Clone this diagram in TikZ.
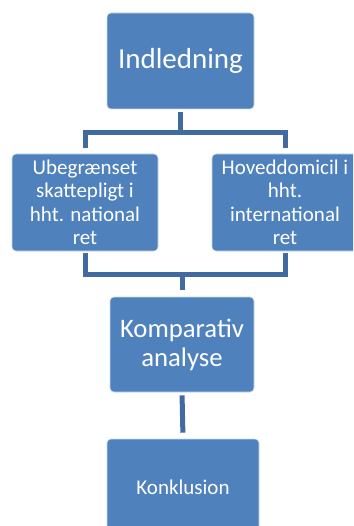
\documentclass[tikz,border=0pt]{standalone}
\usepackage{fontspec}
\setmainfont{Carlito}
\definecolor{boxblue}{RGB}{79,129,189}
\definecolor{lineblue}{RGB}{65,106,160}
\begin{document}
\begin{tikzpicture}[x=1pt,y=-1pt,
  box/.style={draw=white!70!boxblue, line width=0.6pt, fill=boxblue, rounded corners=4pt,
    text=white, align=center, inner sep=0pt},
  conn/.style={draw=lineblue, line width=5pt}]
\useasboundingbox (0,0) rectangle (353,526);
\clip (0,0) rectangle (353,526);
\node[box, minimum width=147pt, minimum height=96pt, font=\fontsize{29}{33}\selectfont] (ind) at (180.5,61) {Indledning};
\node[box, minimum width=146pt, minimum height=97pt, font=\fontsize{21}{23.5}\selectfont] (left) at (85,202.5) {Ubegrænset\\skattepligt i\\hht. national\\ret};
\node[box, minimum width=146pt, minimum height=97pt, font=\fontsize{21}{23.5}\selectfont] (right) at (285,202.5) {Hoveddomicil i\\hht.\\international\\ret};
\node[box, minimum width=144pt, minimum height=95pt, font=\fontsize{26.7}{29}\selectfont] (komp) at (182,344.5) {Komparativ\\analyse};
\node[box, minimum width=152pt, minimum height=96pt, font=\fontsize{21}{24}\selectfont] (konk) at (183,487) {Konklusion};
\coordinate (bar1) at (182,132.5);
\coordinate (bar2) at (182,274);
\draw[conn, shorten <=3pt] (ind.south) -- (ind.south |- bar1);
\draw[conn, shorten <=6pt, shorten >=6pt] (left.north) |- (bar1) -| (right.north);
\draw[conn, shorten <=2pt, shorten >=2pt] (left.south) |- (bar2) -| (right.south);
\draw[conn, shorten >=7pt] (bar2) -- (komp.north);
\draw[conn, shorten <=3pt, shorten >=6pt] (komp.south) -- (konk.north);
\end{tikzpicture}
\end{document}
